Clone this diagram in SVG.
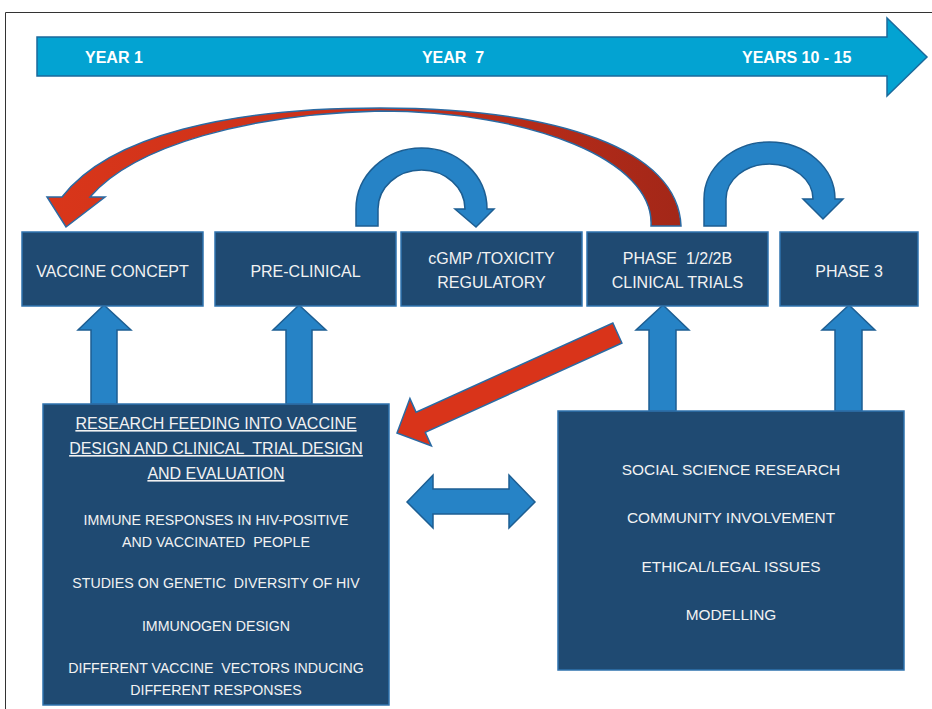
<svg xmlns="http://www.w3.org/2000/svg" width="932" height="709" viewBox="0 0 932 709">
<style>
.box{fill:#1F4A72;stroke:#2F73AE;stroke-width:1.5}
.blk{fill:#2683C6;stroke:#1D5E92;stroke-width:1.5;stroke-linejoin:miter}
.red{stroke:#2A6AA3;stroke-width:1.5}
.t{font-family:"Liberation Sans",Arial,sans-serif;fill:#F2F2F2;text-anchor:middle}
.big{font-size:16px}
.hd{font-size:16px;text-decoration:underline}
.it{font-size:14.2px}
.rt{font-size:15.4px}
.yr{font-family:"Liberation Sans",Arial,sans-serif;font-weight:bold;font-size:16px;fill:#FFFFFF}
</style>
<defs>
<linearGradient id="redg" x1="0" y1="0" x2="1" y2="0">
<stop offset="0" stop-color="#D9361A"/>
<stop offset="0.5" stop-color="#C9301A"/>
<stop offset="1" stop-color="#A32718"/>
</linearGradient>
</defs>
<rect width="932" height="709" fill="#FFFFFF"/>
<path d="M5.5,709 L5.5,12.5 L932,12.5" fill="none" stroke="#333333" stroke-width="1"/>

<g id="timeline">
<polygon points="37,37 887,37 887,18 927,57 887,96 887,76 37,76" fill="#03A3D2" stroke="#1B6A9C" stroke-width="1.5"/>
<text class="yr" x="85" y="63">YEAR 1</text>
<text class="yr" x="453" y="63" text-anchor="middle" xml:space="preserve">YEAR  7</text>
<text class="yr" x="742" y="63">YEARS 10 - 15</text>
</g>

<g id="connectors">
<path class="red" fill="url(#redg)" d="M681,226 C678,150 560,108 380,108 C230,108 110,135 62,197 L47,197 L66,227 L105,197 L90,197 C135,145 250,114 380,111 C530,111 655,160 651,226 Z"/>
<path class="blk" d="M356,226 L356,209 A65.5,61 0 0 1 487,209 L494,209 L476,227 L455,209 L465,209 A43.5,39 0 0 0 378,209 L378,226 Z"/>
<path class="blk" d="M704,226 L704,199 A65.5,57 0 0 1 835,199 L843,199 L823,219 L803,199 L813,199 A43.5,35 0 0 0 726,199 L726,226 Z"/>
<polygon class="blk" points="104,305 131,330 117,330 117,404 91,404 91,330 78,330"/>
<polygon class="blk" points="299,305 326,330 312,330 312,404 286,404 286,330 273,330"/>
<polygon class="blk" points="663,305 689,330 676,330 676,411 649,411 649,330 636,330"/>
<polygon class="blk" points="849,305 875,330 862,330 862,411 835,411 835,330 822,330"/>
<polygon class="red" fill="#D9341A" transform="translate(397,433) rotate(-24.4)" points="0,0 26,-26 26,-11 242,-11 242,11 26,11 26,26"/>
<polygon class="blk" points="407,502 433,475 433,489 509,489 509,475 535,502 509,528 509,514 433,514 433,528"/>
</g>

<g id="vaccine-concept">
<rect class="box" x="22" y="232" width="181" height="74"/>
<text class="t big" x="112.5" y="277">VACCINE CONCEPT</text>
</g>
<g id="pre-clinical">
<rect class="box" x="215" y="232" width="181" height="74"/>
<text class="t big" x="305.5" y="277">PRE-CLINICAL</text>
</g>
<g id="cgmp">
<rect class="box" x="401" y="232" width="181" height="74"/>
<text class="t big" x="491.5" y="264">cGMP /TOXICITY</text>
<text class="t big" x="491.5" y="288">REGULATORY</text>
</g>
<g id="phase-1-2">
<rect class="box" x="587" y="232" width="181" height="74"/>
<text class="t big" x="677.5" y="264" xml:space="preserve">PHASE  1/2/2B</text>
<text class="t big" x="677.5" y="288">CLINICAL TRIALS</text>
</g>
<g id="phase-3">
<rect class="box" x="780" y="232" width="138" height="74"/>
<text class="t big" x="849" y="277">PHASE 3</text>
</g>

<g id="research">
<rect class="box" x="43" y="404" width="346" height="301"/>
<text class="t hd" x="216" y="429">RESEARCH FEEDING INTO VACCINE</text>
<text class="t hd" x="216" y="454" xml:space="preserve">DESIGN AND CLINICAL  TRIAL DESIGN</text>
<text class="t hd" x="216" y="479">AND EVALUATION</text>
<text class="t it" x="216" y="525">IMMUNE RESPONSES IN HIV-POSITIVE</text>
<text class="t it" x="216" y="547" xml:space="preserve">AND VACCINATED  PEOPLE</text>
<text class="t it" x="216" y="588" xml:space="preserve">STUDIES ON GENETIC  DIVERSITY OF HIV</text>
<text class="t it" x="216" y="631">IMMUNOGEN DESIGN</text>
<text class="t it" x="216" y="673" xml:space="preserve">DIFFERENT VACCINE  VECTORS INDUCING</text>
<text class="t it" x="216" y="695">DIFFERENT RESPONSES</text>
</g>

<g id="social">
<rect class="box" x="558" y="411" width="346" height="259"/>
<text class="t rt" x="731" y="475">SOCIAL SCIENCE RESEARCH</text>
<text class="t rt" x="731" y="523">COMMUNITY INVOLVEMENT</text>
<text class="t rt" x="731" y="572">ETHICAL/LEGAL ISSUES</text>
<text class="t rt" x="731" y="620">MODELLING</text>
</g>
</svg>
